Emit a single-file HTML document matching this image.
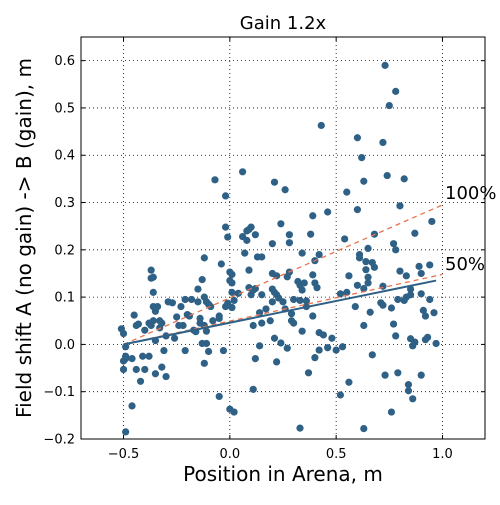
<!DOCTYPE html>
<html><head><meta charset="utf-8"><style>
body{margin:0;background:#fff;}
svg text{font-family:"DejaVu Sans","Liberation Sans",sans-serif;}
</style></head><body>
<svg id="chart" width="500" height="500" viewBox="0 0 500 500" xmlns="http://www.w3.org/2000/svg"></svg>
<script>
const xTicks=[-0.5,0.0,0.5,1.0];
const xTickLabels=["\u22120.5","0.0","0.5","1.0"];
const yTicks=[-0.2,-0.1,0.0,0.1,0.2,0.3,0.4,0.5,0.6];
const yTickLabels=["\u22120.2","\u22120.1","0.0","0.1","0.2","0.3","0.4","0.5","0.6"];
const fitLine=[[-0.5,0.0],[0.97,0.135]];
const line100=[[-0.5,0.0],[1.0,0.295]];
const line50=[[-0.5,0.0],[1.0,0.148]];
const pts=[[-0.51,0.033],[-0.5,0.023],[-0.49,-0.005],[-0.49,-0.025],[-0.5,-0.035],[-0.5,-0.053],[-0.49,-0.03],[-0.46,-0.03],[-0.49,-0.185],[-0.46,-0.13],[-0.45,0.062],[-0.44,0.04],[-0.43,0.043],[-0.44,-0.053],[-0.42,-0.078],[-0.41,-0.025],[-0.4,-0.053],[-0.4,0.03],[-0.38,0.045],[-0.38,-0.025],[-0.37,0.14],[-0.37,0.157],[-0.36,0.142],[-0.36,0.11],[-0.36,0.08],[-0.36,0.05],[-0.37,0.04],[-0.35,0.07],[-0.35,0.008],[-0.35,-0.062],[-0.34,0.08],[-0.33,0.05],[-0.33,0.035],[-0.32,0.045],[-0.32,-0.048],[-0.31,-0.013],[-0.3,0.018],[-0.3,-0.068],[-0.29,0.09],[-0.27,0.088],[-0.26,0.013],[-0.25,0.058],[-0.24,0.04],[-0.23,0.08],[-0.22,0.04],[-0.21,0.095],[-0.21,-0.013],[-0.2,0.063],[-0.19,0.06],[-0.18,0.095],[-0.17,0.03],[-0.16,0.027],[-0.15,0.117],[-0.15,0.09],[-0.14,0.055],[-0.14,0.045],[-0.13,0.137],[-0.13,0.002],[-0.12,0.1],[-0.12,0.04],[-0.12,0.183],[-0.12,-0.04],[-0.11,0.002],[-0.11,0.09],[-0.11,0.028],[-0.1,0.085],[-0.1,-0.015],[-0.09,0.08],[-0.08,0.05],[-0.07,0.348],[-0.05,0.055],[-0.05,0.06],[-0.04,0.17],[-0.03,-0.013],[-0.05,-0.11],[-0.02,0.314],[-0.02,0.248],[-0.01,0.227],[-0.02,0.08],[-0.01,0.087],[0.0,0.135],[0.0,0.153],[0.01,0.148],[0.01,0.11],[0.01,0.13],[0.01,0.078],[0.02,0.093],[0.0,-0.137],[0.02,-0.143],[0.04,0.108],[0.06,0.365],[0.06,0.228],[0.07,0.193],[0.08,0.22],[0.08,0.24],[0.09,0.243],[0.1,0.248],[0.09,0.157],[0.09,0.12],[0.1,0.105],[0.11,0.115],[0.11,0.04],[0.11,-0.095],[0.12,0.232],[0.12,0.118],[0.12,-0.03],[0.13,0.185],[0.14,0.067],[0.14,-0.003],[0.15,0.185],[0.15,0.105],[0.15,0.045],[0.17,0.075],[0.19,0.05],[0.2,0.213],[0.2,0.15],[0.2,0.117],[0.2,0.09],[0.21,0.343],[0.21,0.11],[0.21,0.013],[0.22,-0.037],[0.22,0.145],[0.22,0.105],[0.23,0.098],[0.24,0.255],[0.24,0.003],[0.25,0.09],[0.26,0.327],[0.26,0.075],[0.27,-0.008],[0.27,0.143],[0.28,0.215],[0.28,0.232],[0.28,0.153],[0.29,0.065],[0.29,0.05],[0.3,0.045],[0.3,0.095],[0.32,0.133],[0.33,0.093],[0.33,0.125],[0.34,0.193],[0.34,0.115],[0.34,0.028],[0.33,-0.177],[0.35,0.13],[0.36,0.08],[0.36,0.092],[0.37,-0.06],[0.38,0.233],[0.39,0.272],[0.39,0.147],[0.39,0.06],[0.4,0.177],[0.4,0.13],[0.4,-0.028],[0.41,0.12],[0.42,0.19],[0.42,0.025],[0.42,-0.012],[0.43,0.463],[0.44,0.02],[0.46,0.28],[0.46,-0.007],[0.48,0.013],[0.5,-0.012],[0.52,0.107],[0.52,-0.107],[0.53,-0.005],[0.54,0.223],[0.55,0.11],[0.55,0.322],[0.56,0.145],[0.56,-0.08],[0.59,0.08],[0.6,0.285],[0.6,0.125],[0.6,0.437],[0.61,0.19],[0.61,0.183],[0.62,0.395],[0.63,0.345],[0.63,0.118],[0.63,0.04],[0.63,-0.178],[0.64,0.158],[0.64,0.175],[0.65,0.203],[0.65,0.142],[0.65,0.13],[0.66,0.068],[0.67,0.173],[0.68,0.163],[0.68,0.233],[0.67,-0.022],[0.71,0.088],[0.72,0.427],[0.72,0.083],[0.72,0.123],[0.73,-0.065],[0.73,0.59],[0.74,0.357],[0.75,0.505],[0.76,0.077],[0.76,-0.143],[0.77,0.213],[0.77,0.043],[0.78,0.535],[0.78,0.2],[0.78,0.018],[0.79,0.095],[0.79,-0.06],[0.8,0.293],[0.8,0.155],[0.82,0.093],[0.82,0.35],[0.83,0.145],[0.83,0.1],[0.84,-0.085],[0.84,-0.098],[0.85,0.012],[0.85,0.117],[0.85,0.105],[0.86,-0.115],[0.86,-0.003],[0.87,0.235],[0.87,0.005],[0.89,0.165],[0.9,-0.065],[0.9,0.15],[0.9,0.107],[0.91,0.072],[0.92,0.06],[0.92,0.01],[0.93,0.015],[0.94,0.168],[0.94,0.095],[0.95,0.26],[0.96,0.067],[0.97,0.002]];

const L=81,R=485,T=37,B=439;
const X0=-0.7,X1=1.2,Y0=-0.2,Y1=0.65;
const sx=v=>L+(v-X0)/(X1-X0)*(R-L);
const sy=v=>B-(v-Y0)/(Y1-Y0)*(B-T);
const svg=document.getElementById('chart');
const NS='http://www.w3.org/2000/svg';
function mk(tag,attrs,parent){const e=document.createElementNS(NS,tag);for(const k in attrs)e.setAttribute(k,attrs[k]);(parent||svg).appendChild(e);return e;}

const grid=mk('g',{});


xTicks.forEach((t,i)=>{
  const x=sx(t);
  const g=mk('line',{x1:x,x2:x,y1:T,y2:B,stroke:'#000','stroke-width':0.8,'stroke-dasharray':'1,3'},grid);
  
  
  mk('line',{x1:x,x2:x,y1:B,y2:B-4,stroke:'#000'});
  mk('line',{x1:x,x2:x,y1:T,y2:T+4,stroke:'#000'});
  const tx=mk('text',{x:x,y:B+19,'font-size':13,'text-anchor':'middle'});
  tx.textContent=xTickLabels[i];
  
  
});
yTicks.forEach((t,i)=>{
  const y=sy(t);
  const g=mk('line',{x1:L,x2:R,y1:y,y2:y,stroke:'#000','stroke-width':0.8,'stroke-dasharray':'1,3'},grid);
  
  
  mk('line',{x1:L,x2:L+4,y1:y,y2:y,stroke:'#000'});
  mk('line',{x1:R,x2:R-4,y1:y,y2:y,stroke:'#000'});
  const tx=mk('text',{x:L-6,y:y+4.5,'font-size':13,'text-anchor':'end'});
  tx.textContent=yTickLabels[i];
  
  
});

const dots=mk('g',{fill:'#2f6186'});


pts.forEach(p=>{
  const c=mk('circle',{cx:sx(p[0]),cy:sy(p[1]),r:3.6},dots);
  
  
});

const l100=mk('line',{x1:sx(line100[0][0]),y1:sy(line100[0][1]),x2:sx(line100[1][0]),y2:sy(line100[1][1]),stroke:'#e8734f','stroke-width':1.3,'stroke-dasharray':'5,4'});


const l50=mk('line',{x1:sx(line50[0][0]),y1:sy(line50[0][1]),x2:sx(line50[1][0]),y2:sy(line50[1][1]),stroke:'#e8734f','stroke-width':1.3,'stroke-dasharray':'5,4'});


const fl=mk('line',{x1:sx(fitLine[0][0]),y1:sy(fitLine[0][1]),x2:sx(fitLine[1][0]),y2:sy(fitLine[1][1]),stroke:'#2f6186','stroke-width':2});



const fr=mk('rect',{x:L,y:T,width:R-L,height:B-T,fill:'none',stroke:'#000','stroke-width':1});



const a=mk('text',{x:445,y:199,'font-size':18});a.textContent='100%';


const b=mk('text',{x:445,y:270,'font-size':18});b.textContent='50%';


const ti=mk('text',{x:283,y:29,'font-size':18,'text-anchor':'middle'});ti.textContent='Gain 1.2x';


const xl=mk('text',{x:283,y:481,'font-size':20,'text-anchor':'middle'});xl.textContent='Position in Arena, m';


const yl=mk('text',{x:0,y:0,'font-size':20,'text-anchor':'middle',transform:'translate(31,238) rotate(-90)'});yl.textContent='Field shift A (no gain) -> B (gain), m';


</script>
</body></html>
